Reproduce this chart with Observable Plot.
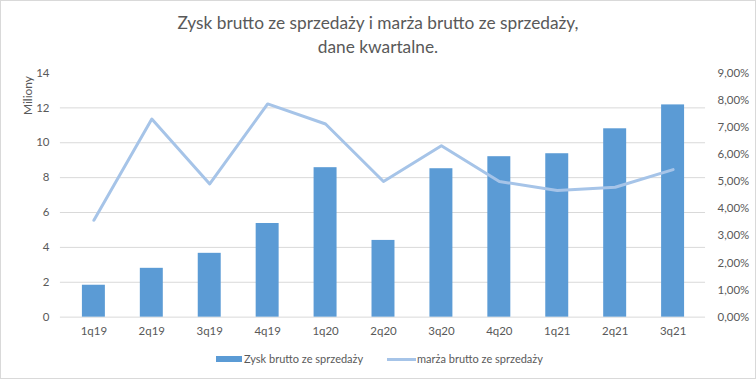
<!DOCTYPE html>
<html><head><meta charset="utf-8">
<script src="https://cdn.jsdelivr.net/npm/d3@7"></script>
<script src="https://cdn.jsdelivr.net/npm/@observablehq/plot@0.6"></script>
<style>
body{margin:0;background:#fff;}
#wrap{position:relative;width:756px;height:379px;box-sizing:border-box;border:1px solid #d9d9d9;overflow:hidden;font-family:"Lato",sans-serif;color:#595959;background:#fff;}
#title{position:absolute;top:10px;left:-1px;width:756px;text-align:center;font-size:17.3px;font-weight:400;line-height:24px;color:#595959;}
#chart{position:absolute;top:61px;left:-1px;}
.lg{position:absolute;top:351px;font-size:11px;line-height:14px;display:flex;align-items:center;color:#595959;white-space:nowrap;}
.sw1{width:26px;height:6px;background:#5b9bd5;margin-right:2px;}
.sw2{width:29px;height:3px;background:#a6c4e8;margin-right:1px;}
</style></head>
<body>
<div id="wrap">
  <div id="title">Zysk brutto ze sprzedaży i marża brutto ze sprzedaży,<br>dane kwartalne.</div>
  <div id="chart"></div>
  <div class="lg" style="left:215px"><div class="sw1"></div><span>Zysk brutto ze sprzedaży</span></div>
  <div class="lg" style="left:386px"><div class="sw2"></div><span>marża brutto ze sprzedaży</span></div>
</div>
<script>
const quarters = ["1q19","2q19","3q19","4q19","1q20","2q20","3q20","4q20","1q21","2q21","3q21"];
const profit = [1.83, 2.8, 3.66, 5.37, 8.57, 4.4, 8.51, 9.2, 9.37, 10.8, 12.17];
const margin = [3.57, 7.30, 4.91, 7.86, 7.12, 5.00, 6.32, 5.00, 4.67, 4.79, 5.44];
const leftTicks = [0, 2, 4, 6, 8, 10, 12, 14];
const gridTicks = [0, 2, 4, 6, 8, 10, 12];
const pctTicks = [0, 1, 2, 3, 4, 5, 6, 7, 8, 9];
const yMax = 14, pMax = 9;
const toLeft = p => p * yMax / pMax;

const data = quarters.map((q, i) => ({q, profit: profit[i], margin: margin[i]}));

const chart = Plot.plot({
  width: 756,
  height: 285,
  marginTop: 10.5,
  marginBottom: 30,
  marginLeft: 60,
  marginRight: 50,
  style: {fontFamily: '"Lato",sans-serif', fontSize: "11.5px", color: "#595959", background: "transparent"},
  x: {domain: quarters, paddingInner: 0.61, paddingOuter: 0.305, axis: null},
  y: {domain: [0, yMax], axis: null},
  marks: [
    Plot.gridY(gridTicks, {stroke: "#d9d9d9", strokeOpacity: 1}),
    Plot.barY(data, {x: "q", y: "profit", fill: "#5b9bd5"}),
    Plot.line(data, {x: "q", y: d => toLeft(d.margin), stroke: "#a6c4e8", strokeWidth: 3}),
    Plot.axisY({ticks: leftTicks, tickSize: 0, tickPadding: 11, label: null}),
    Plot.axisY({anchor: "right", ticks: pctTicks.map(toLeft), tickSize: 0, tickPadding: 12, label: null,
      tickFormat: v => (v * pMax / yMax).toFixed(2).replace(".", ",") + "%"}),
    Plot.axisX({tickSize: 0, tickPadding: 10, label: null}),
    Plot.text(["Miliony"], {text: d => d, frameAnchor: "top-left", rotate: -90, textAnchor: "end", dx: -37, dy: 3, fontSize: 12})
  ]
});
document.getElementById("chart").appendChild(chart);
</script>
</body></html>
